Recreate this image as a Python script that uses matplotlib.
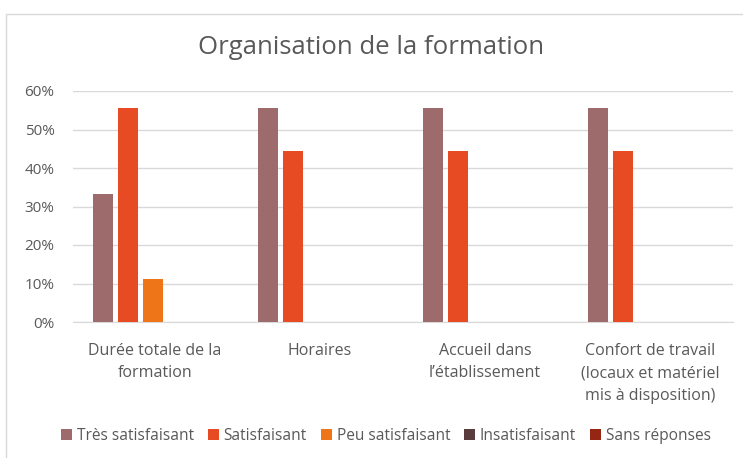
import matplotlib
matplotlib.use("Agg")
import matplotlib.pyplot as plt
import numpy as np
from matplotlib.patches import Rectangle
from matplotlib.ticker import PercentFormatter

categories = ["Durée totale de la\nformation", "Horaires", "Accueil dans\nl’établissement",
              "Confort de travail\n(locaux et matériel\nmis à disposition)"]
series_names = ["Très satisfaisant", "Satisfaisant", "Peu satisfaisant", "Insatisfaisant", "Sans réponses"]
tres_satisfaisant = [33.3, 55.6, 55.6, 55.6]
satisfaisant = [55.6, 44.4, 44.4, 44.4]
peu_satisfaisant = [11.1, 0, 0, 0]
insatisfaisant = [0, 0, 0, 0]
sans_reponses = [0, 0, 0, 0]
series_values = [tres_satisfaisant, satisfaisant, peu_satisfaisant, insatisfaisant, sans_reponses]
colors = ["#9E6B6D", "#E64B23", "#EE7518", "#5B3C3E", "#952613"]

plt.rcParams['font.family'] = ['Open Sans', 'DejaVu Sans']
txt = "#595959"

fig = plt.figure(figsize=(7.43, 4.58), dpi=100)
ax = fig.add_axes([72.5/743, 1-322/458, 660/743, 231/458])

x = np.arange(len(categories))
step = 0.152
width = 0.12
for i, (name, vals, c) in enumerate(zip(series_names, series_values, colors)):
    ax.bar(x + (i - 2) * step - 0.012, vals, width=width, color=c, label=name, zorder=3)

ax.set_xlim(-0.5, len(categories) - 0.5)
ax.set_ylim(0, 60)
ax.set_yticks(range(0, 61, 10))
ax.yaxis.set_major_formatter(PercentFormatter(decimals=0))
ax.grid(axis='y', color="#D9D9D9", linewidth=1, zorder=0)
for s in ["top", "right", "left"]:
    ax.spines[s].set_visible(False)
ax.spines["bottom"].set_color("#D9D9D9")
ax.tick_params(axis='y', length=0, colors=txt, labelsize=11, pad=13)
ax.tick_params(axis='x', length=0, colors=txt, labelsize=11.5, pad=15)
ax.set_xticks(x)
ax.set_xticklabels(categories, color=txt, linespacing=1.55)

fig.text(0.5, 1-48/458, "Organisation de la formation", ha='center', va='center',
         fontsize=18.5, color=txt)

leg = fig.legend(loc='center', bbox_to_anchor=(386/743, 1-436/458), ncol=5, frameon=False,
                 fontsize=11.2, handlelength=0.7, handleheight=0.7, handletextpad=0.3,
                 columnspacing=0.9, labelcolor=txt)

fig.patches.append(Rectangle((6/743, -0.1), 1.2, 1-14/458 + 0.1, transform=fig.transFigure,
                             fill=False, edgecolor="#D9D9D9", linewidth=1))

fig.savefig("out.png", dpi=100)
